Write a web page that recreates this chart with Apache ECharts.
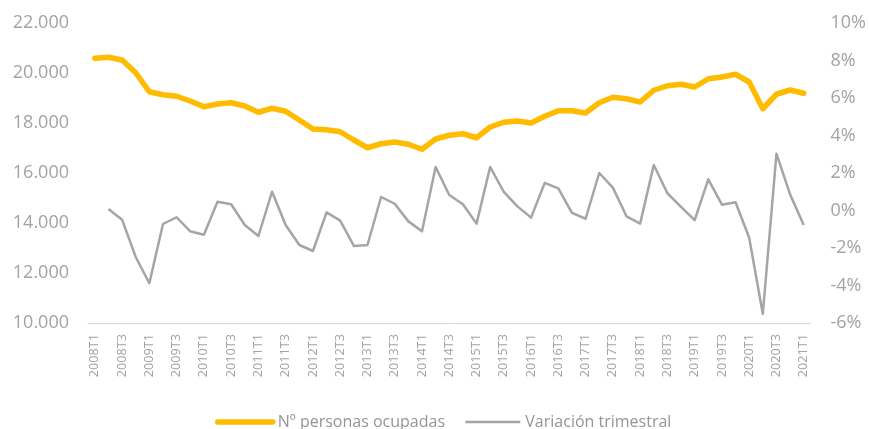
<!DOCTYPE html>
<html><head><meta charset="utf-8">
<script src="https://cdn.jsdelivr.net/npm/echarts@6/dist/echarts.min.js"></script>
<style>html,body{margin:0;padding:0;background:#fff}#c{width:869px;height:429px}</style>
</head><body><div id="c"></div>
<script>
var categories = [];
for (var y = 2008; y <= 2021; y++) { for (var q = 1; q <= 4; q++) { if (y === 2021 && q > 1) break; categories.push(y + 'T' + q); } }

var ocupados = [20590,20630,20520,20010,19250,19130,19070,18880,18650,18760,18810,18680,18430,18590,18470,18120,
  17760,17730,17650,17320,17010,17170,17240,17150,16950,17360,17510,17570,17410,17840,18030,18080,18000,18270,
  18490,18490,18400,18810,19030,18970,18840,19310,19490,19550,19440,19770,19840,19950,19640,18570,19150,19320,19190];

var variacion = [null,0.08,-0.49,-2.48,-3.88,-0.72,-0.36,-1.11,-1.29,0.47,0.33,-0.77,-1.36,1.0,-0.77,-1.84,
  -2.16,-0.10,-0.54,-1.89,-1.84,0.72,0.36,-0.58,-1.11,2.32,0.83,0.33,-0.70,2.32,0.99,0.22,-0.38,1.47,1.18,
  -0.13,-0.44,2.0,1.22,-0.31,-0.70,2.43,0.92,0.19,-0.51,1.66,0.31,0.44,-1.45,-5.52,3.03,0.86,-0.77];

var seriesNames = ['Nº personas ocupadas', 'Variación trimestral'];
var FONT = '"Open Sans", sans-serif';
var TXT = '#a3a3a3';

var chart = echarts.init(document.getElementById('c'), null, {renderer: 'canvas'});
chart.setOption({
  animation: false,
  textStyle: {fontFamily: FONT},
  grid: {left: 88, right: 55, top: 23, bottom: 106},
  legend: {
    left: 210, top: 409, itemWidth: 55, itemHeight: 18, itemGap: 19,
    textStyle: {fontFamily: FONT, fontSize: 16, color: '#959595'},
    data: [
      {name: seriesNames[0], itemStyle: {opacity: 0, borderWidth: 0}, lineStyle: {width: 5.5, cap: 'round'}},
      {name: seriesNames[1], itemStyle: {opacity: 0, borderWidth: 0}, lineStyle: {width: 2.5}}
    ]
  },
  xAxis: {
    type: 'category', data: categories, boundaryGap: true,
    axisLine: {show: true, onZero: false, lineStyle: {color: '#d9d9d9', width: 1}},
    axisTick: {show: false},
    axisLabel: {interval: 1, rotate: 90, margin: 11, fontFamily: FONT, fontSize: 12.7, color: TXT}
  },
  yAxis: [
    {type: 'value', min: 10000, max: 22000, interval: 2000,
     axisLine: {show: false}, axisTick: {show: false}, splitLine: {show: false},
     axisLabel: {margin: 19, fontFamily: FONT, fontSize: 18, color: TXT,
       formatter: function (v) { return String(v).replace(/\B(?=(\d{3})+(?!\d))/g, '.'); }}},
    {type: 'value', min: -6, max: 10, interval: 2,
     axisLine: {show: false}, axisTick: {show: false}, splitLine: {show: false},
     axisLabel: {margin: 20, fontFamily: FONT, fontSize: 18, color: TXT,
       formatter: function (v) { return v + '%'; }}}
  ],
  series: [
    {name: seriesNames[0], type: 'line', yAxisIndex: 0, data: ocupados, symbol: 'none',
     itemStyle: {color: '#FFBB00'},
     lineStyle: {color: '#FFBB00', width: 5.5, cap: 'round', join: 'round'}, z: 3},
    {name: seriesNames[1], type: 'line', yAxisIndex: 1, data: variacion, symbol: 'none',
     itemStyle: {color: '#A5A5A5'},
     lineStyle: {color: '#A5A5A5', width: 2.5, join: 'round'}, z: 2}
  ]
});
</script></body></html>
